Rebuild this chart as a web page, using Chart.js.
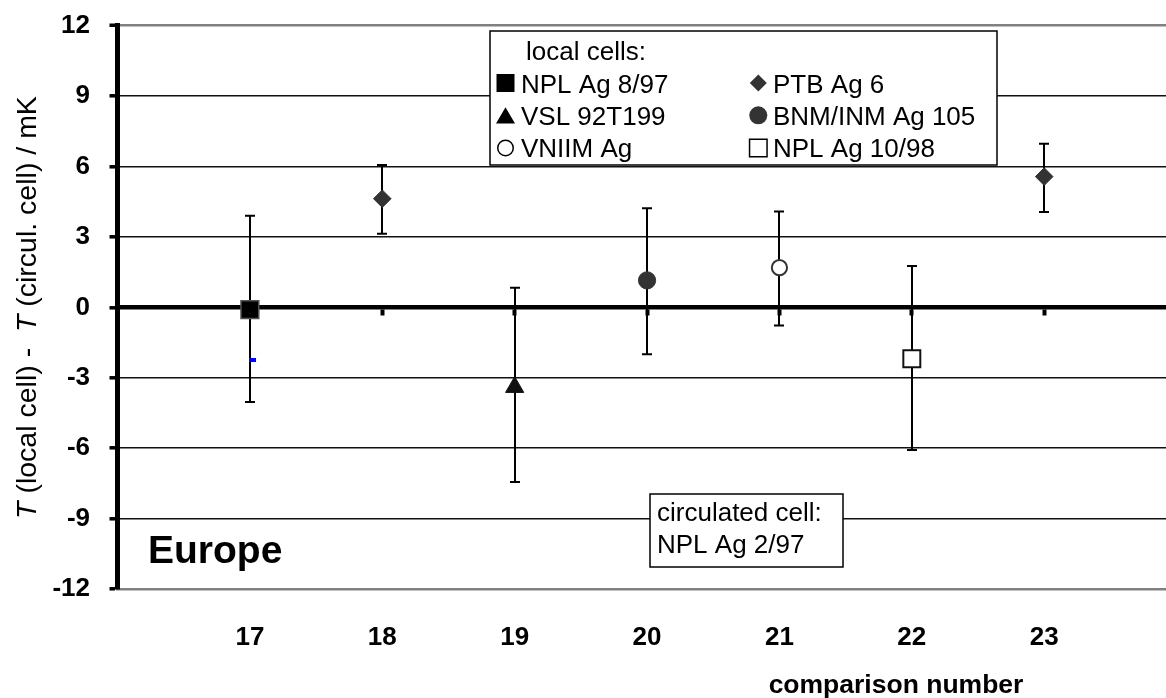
<!DOCTYPE html>
<html><head><meta charset="utf-8">
<script src="https://cdn.jsdelivr.net/npm/chart.js@4/dist/chart.umd.min.js"></script>
<style>html,body{margin:0;padding:0;background:#fff;overflow:hidden}#wrap{width:1166px;height:698px;position:relative}canvas{display:block}</style>
</head><body><div id="wrap"><canvas id="c" width="1166" height="698"></canvas></div>
<script>
// ---- data ----
const comparisonNumbers = [17, 18, 19, 20, 21, 22, 23];
const cellNames = ['NPL Ag 8/97', 'PTB Ag 6', 'VSL 92T199', 'BNM/INM Ag 105', 'VNIIM Ag', 'NPL Ag 10/98'];
const cellOfComparison = ['NPL Ag 8/97', 'PTB Ag 6', 'VSL 92T199', 'BNM/INM Ag 105', 'VNIIM Ag', 'NPL Ag 10/98', 'PTB Ag 6'];
const tempDiff = [-0.1, 4.63, -3.4, 1.15, 1.69, -2.19, 5.57];
const errUpper = [3.9, 6.06, 0.84, 4.22, 4.08, 1.76, 6.97];
const errLower = [-4.03, 3.14, -7.44, -2.0, -0.77, -6.08, 4.06];
const stray = [{x: 17.02, y: -2.24}];
const yTicks = [-12, -9, -6, -3, 0, 3, 6, 9, 12];
const xMin = 16, xMax = 23.92;
const circulatedCell = ['circulated cell:', 'NPL Ag 2/97'];
const regionLabel = 'Europe';

// ---- styles ----
const styles = {
  'NPL Ag 8/97':    {ps: 'rect', r: 12.6, bg: '#000', bc: '#555', bw: 1.5},
  'PTB Ag 6':       {ps: 'rectRot', r: 8.8, bg: '#333', bc: '#333', bw: 1},
  'VSL 92T199':     {ps: 'triangle', r: 10.5, bg: '#111', bc: '#111', bw: 1},
  'BNM/INM Ag 105': {ps: 'circle', r: 8.6, bg: '#333', bc: '#333', bw: 1},
  'VNIIM Ag':       {ps: 'circle', r: 7.6, bg: '#fff', bc: '#333', bw: 2},
  'NPL Ag 10/98':   {ps: 'rect', r: 12, bg: '#fff', bc: '#111', bw: 2}
};
const FONT = "'Liberation Sans', Arial, sans-serif";

const datasets = cellNames.map(name => {
  const s = styles[name];
  const pts = [];
  comparisonNumbers.forEach((c, i) => { if (cellOfComparison[i] === name) pts.push({x: c, y: tempDiff[i]}); });
  return {label: name, data: pts, pointStyle: s.ps, pointRadius: s.r, pointBackgroundColor: s.bg,
          pointBorderColor: s.bc, pointBorderWidth: s.bw, showLine: false};
});
datasets.push({label: 'stray', data: stray, pointStyle: 'line', pointRadius: 3.5, pointBorderWidth: 4,
               pointBorderColor: '#0000ff', pointBackgroundColor: '#0000ff', showLine: false});

const errorBars = {
  id: 'errorBars',
  beforeDatasetsDraw(chart) {
    const {ctx, scales: {x, y}} = chart;
    ctx.save();
    ctx.strokeStyle = '#000';
    ctx.lineWidth = 2;
    comparisonNumbers.forEach((c, i) => {
      const px = Math.round(x.getPixelForValue(c));
      const pt = y.getPixelForValue(errUpper[i]);
      const pb = y.getPixelForValue(errLower[i]);
      ctx.beginPath();
      ctx.moveTo(px, pt); ctx.lineTo(px, pb);
      ctx.moveTo(px - 5, pt); ctx.lineTo(px + 5, pt);
      ctx.moveTo(px - 5, pb); ctx.lineTo(px + 5, pb);
      ctx.stroke();
    });
    ctx.restore();
  }
};

function marker(ctx, ps, cx, cy, size, fill, stroke, lw) {
  ctx.save();
  ctx.fillStyle = fill; ctx.strokeStyle = stroke; ctx.lineWidth = lw;
  ctx.beginPath();
  const h = size / 2;
  if (ps === 'rect') ctx.rect(cx - h, cy - h, size, size);
  else if (ps === 'rectRot') { ctx.moveTo(cx, cy - h); ctx.lineTo(cx + h, cy); ctx.lineTo(cx, cy + h); ctx.lineTo(cx - h, cy); ctx.closePath(); }
  else if (ps === 'triangle') { const th = size * 0.85; ctx.moveTo(cx, cy - th / 2); ctx.lineTo(cx + h, cy + th / 2); ctx.lineTo(cx - h, cy + th / 2); ctx.closePath(); }
  else ctx.arc(cx, cy, h, 0, Math.PI * 2);
  ctx.fill();
  if (lw) ctx.stroke();
  ctx.restore();
}

const annotations = {
  id: 'annotations',
  afterDraw(chart) {
    const ctx = chart.ctx;
    ctx.save();
    // legend box
    ctx.fillStyle = '#fff'; ctx.strokeStyle = '#000'; ctx.lineWidth = 1.5;
    ctx.fillRect(490, 31, 507, 134); ctx.strokeRect(490, 31, 507, 134);
    ctx.fillStyle = '#000';
    ctx.font = '26px ' + FONT;
    ctx.textBaseline = 'alphabetic'; ctx.textAlign = 'left';
    ctx.fillText('local cells:', 526, 59.5);
    const cols = [[505.5, 521], [758.3, 773]];
    const rows = [[83, 92.7], [115.3, 125], [148, 156.7]];
    const legendOrder = [
      ['NPL Ag 8/97', 0, 0, 'rect', 18, '#000', '#000', 0],
      ['PTB Ag 6', 1, 0, 'rectRot', 17, '#333', '#333', 0],
      ['VSL 92T199', 0, 1, 'triangle', 19, '#000', '#000', 0],
      ['BNM/INM Ag 105', 1, 1, 'circle', 18, '#333', '#333', 0],
      ['VNIIM Ag', 0, 2, 'circle', 15.5, '#fff', '#000', 1.5],
      ['NPL Ag 10/98', 1, 2, 'rect', 17.5, '#fff', '#000', 1.5]
    ];
    legendOrder.forEach(([name, c, r, ps, sz, f, s, lw]) => {
      marker(ctx, ps, cols[c][0], rows[r][0], sz, f, s, lw);
      ctx.fillStyle = '#000';
      ctx.fillText(name, cols[c][1], rows[r][1]);
    });
    // circulated cell box
    ctx.fillStyle = '#fff'; ctx.strokeStyle = '#000'; ctx.lineWidth = 1.5;
    ctx.fillRect(650, 494, 193, 73); ctx.strokeRect(650, 494, 193, 73);
    ctx.fillStyle = '#000';
    ctx.fillText(circulatedCell[0], 657, 520.7);
    ctx.fillText(circulatedCell[1], 657, 553.3);
    // region label
    ctx.font = 'bold 39px ' + FONT;
    ctx.fillText(regionLabel, 148, 563.3);
    // x title
    ctx.font = 'bold 26.5px ' + FONT;
    ctx.textAlign = 'center';
    ctx.fillText('comparison number', 896, 693.3);
    // y title with italic T
    ctx.translate(35.5, 307.5);
    ctx.rotate(-Math.PI / 2);
    const parts = [['T', 'italic 28.5px '], [' (local cell) -  ', '28.5px '], ['T', 'italic 28.5px '], [' (circul. cell) / mK', '28.5px ']];
    let total = 0;
    parts.forEach(p => { ctx.font = p[1] + FONT; total += ctx.measureText(p[0]).width; });
    let xx = -total / 2;
    ctx.textAlign = 'left';
    parts.forEach(p => { ctx.font = p[1] + FONT; ctx.fillText(p[0], xx, 0); xx += ctx.measureText(p[0]).width; });
    ctx.restore();
  }
};

const keepIntegers = s => { s.ticks = s.ticks.filter(t => Number.isInteger(t.value)); };
const zeroPad = s => { s.paddingLeft = 0; s.paddingRight = 0; s.paddingTop = 0; s.paddingBottom = 0; };

new Chart(document.getElementById('c'), {
  type: 'scatter',
  data: {datasets},
  plugins: [errorBars, annotations],
  options: {
    responsive: false,
    animation: false,
    events: [],
    layout: {autoPadding: false, padding: {top: 25.7, left: 0, right: 0, bottom: 0}},
    plugins: {legend: {display: false}, tooltip: {enabled: false}},
    scales: {
      x: {
        type: 'linear', min: xMin, max: xMax, position: 'bottom',
        afterFit: s => { zeroPad(s); s.height = 109; },
        grid: {display: false},
        border: {display: true, color: '#808080', width: 2.5},
        ticks: {stepSize: 1, padding: 25, color: '#000', font: {family: FONT, size: 26, weight: 'bold'},
                callback: v => (Number.isInteger(v) && v >= comparisonNumbers[0] && v <= comparisonNumbers[comparisonNumbers.length - 1]) ? String(v) : ''}
      },
      x0: {
        type: 'linear', axis: 'x', min: xMin, max: xMax, position: {y: 0},
        afterBuildTicks: keepIntegers,
        afterFit: zeroPad,
        ticks: {display: false, stepSize: 1},
        grid: {drawOnChartArea: false, drawTicks: true, tickLength: 6, tickWidth: 4, tickColor: '#000'},
        border: {display: true, color: '#000', width: 4.5}
      },
      y: {
        type: 'linear', min: yTicks[0], max: yTicks[yTicks.length - 1],
        afterBuildTicks: s => { s.ticks = yTicks.map(v => ({value: v})); },
        afterFit: s => { zeroPad(s); s.width = 117.5; },
        grid: {
          color: c => (c.tick.value === 12 ? '#808080' : (c.tick.value === -12 || c.tick.value === 0) ? 'rgba(0,0,0,0)' : '#111'),
          lineWidth: c => (c.tick.value === 12 ? 2.5 : 1.6),
          tickLength: 8, tickWidth: 3.5, tickColor: '#000'
        },
        border: {display: true, color: '#000', width: 5},
        ticks: {padding: 19.5, color: '#000', font: {family: FONT, size: 26, weight: 'bold'}}
      }
    }
  }
});
</script></body></html>
